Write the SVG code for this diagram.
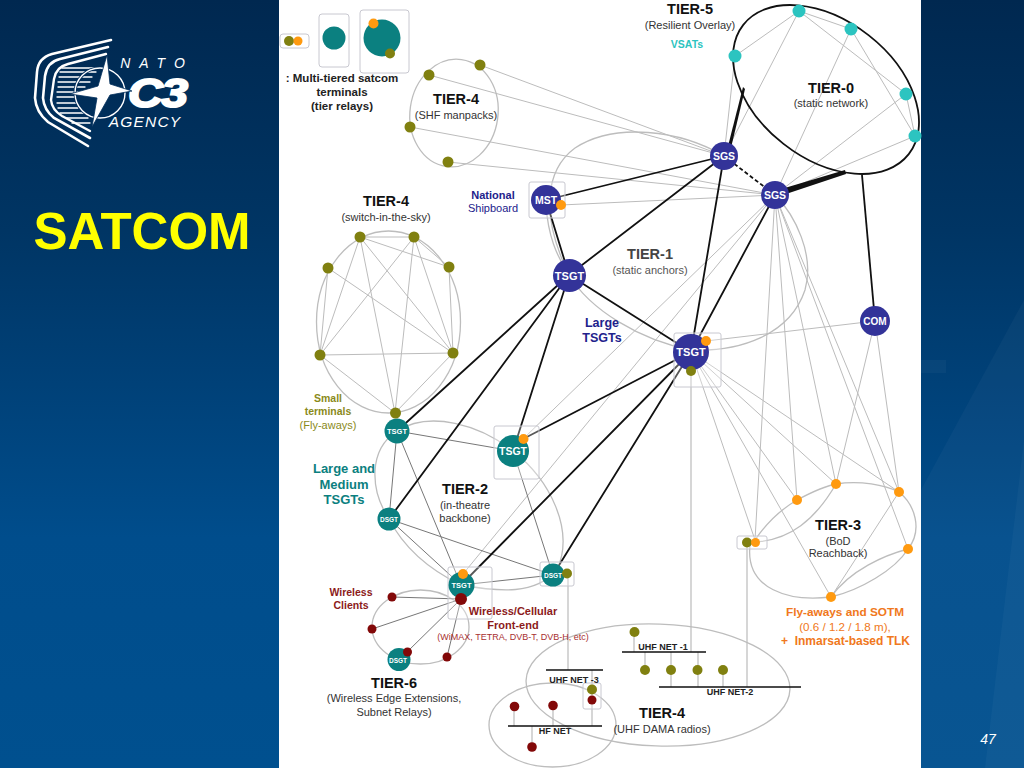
<svg xmlns="http://www.w3.org/2000/svg" width="1024" height="768" viewBox="0 0 1024 768">
<defs>
<linearGradient id="bg" x1="0" y1="0" x2="0" y2="1"><stop offset="0" stop-color="#002850"/><stop offset="0.3" stop-color="#003564"/><stop offset="0.7" stop-color="#004d8c"/><stop offset="1" stop-color="#00508f"/></linearGradient>
</defs>
<style>
text{font-family:"Liberation Sans",Arial,sans-serif;text-anchor:middle}
.t{font-size:14.5px;font-weight:bold;fill:#111}
.s{font-size:11px;fill:#333}
.nw{font-weight:bold;fill:#fff}
.g{stroke:#bcbcbc;stroke-width:1;fill:none}
.c{stroke:#bdbdbd;stroke-width:1.3;fill:none}
.k{stroke:#111;stroke-width:1.8;fill:none}
.d{stroke:#777;stroke-width:1;fill:none}
.box{fill:#fff;fill-opacity:.3;stroke:#c8c8d0;stroke-width:1}
.ol{fill:#808010}.or{fill:#ff9a10}.te{fill:#0b8080}.nv{fill:#333399}.rd{fill:#820808}.cy{fill:#2cc4c0}
.stem{stroke:#bbb;stroke-width:1.2;fill:none}
.bar{stroke:#111;stroke-width:1.5;fill:none}
.lb{font-size:9px;font-weight:bold;fill:#222}
</style>
<rect width="1024" height="768" fill="url(#bg)"/>
<g id="backdrop" fill="#ffffff" fill-opacity="0.03"><polygon points="921,490 1024,300 1024,768 921,768"/><polygon points="985,768 1024,440 1024,768"/><rect x="921" y="360" width="25" height="13"/></g>
<rect id="panel" x="279" y="0" width="642" height="768" fill="#ffffff"/>

<g id="logo">
<text x="157" y="68" style="font-size:14px;letter-spacing:9px;font-style:italic" fill="#fff">NATO</text>
<text x="157" y="107" transform="translate(-31 0) scale(1.2 1)" style="font-size:40px;font-weight:bold;font-style:italic;letter-spacing:-1px" fill="#fff" stroke="#fff" stroke-width="2">C3</text>
<text x="145" y="127" style="font-size:15.500px;letter-spacing:1.2px;font-style:italic" fill="#fff">AGENCY</text>
<g fill="none" stroke="#fff" stroke-linecap="round">
<path d="M111,40 L52,54 Q38,58 37,72 L35,98 Q36,112 48,122 L88,146" stroke-width="2.6"/>
<path d="M108,47 L60,59 Q47,62 45,76 L43,98 Q44,110 54,118 L90,138" stroke-width="2.6"/>
<path d="M106,54 L68,64 Q56,67 54,79 L51,100 Q52,110 62,116 L90,131" stroke-width="2.4"/>
<path d="M62,68 H100M60,72 H96M59,77 H92M58,82 H90M58,87 H85M57,92 H80M57,97 H76M57,103 H76M58,108 H78M60,113 H84M66,118 H88M72,123 H90" stroke-width="1.3"/>
<circle cx="100" cy="93" r="25" stroke="#002d5a" stroke-width="3"/>
<circle cx="100" cy="93" r="25" stroke-width="1.4"/>
</g>
<polygon points="107,55 110,84 132,91 110,95 92,127 97,98 70,94 98,86" fill="#fff" stroke="#002d5a" stroke-width="0.8"/>
</g>
<text id="title" x="142" y="249" style="font-size:51px;font-weight:bold" fill="#ffff00">SATCOM</text>
<text id="pageno" x="988" y="744" style="font-size:14px;font-style:italic" fill="#fff">47</text>

<g id="connectors">
<g class="c">
<ellipse cx="454" cy="113" rx="44" ry="54" transform="rotate(8 454 113)"/>
<ellipse cx="388.500" cy="322" rx="72" ry="91"/>
<path d="M724,156 C680,130 615,122 575,148 C545,170 540,215 569,275 C590,310 640,340 691,350 C740,352 790,335 805,290 C815,255 795,215 775,195"/>
<path d="M546,205 C548,235 556,255 569,275"/>
<path d="M397,431 C430,410 480,425 513,451 C550,480 575,530 557,570 C535,595 500,592 461,585 C430,570 405,550 389,519 C370,490 368,450 397,431"/>
<ellipse cx="420.500" cy="627" rx="48.500" ry="37"/>
<path d="M755,540 C770,518 785,507 797,500 C812,492 825,486 836,484 C860,480 885,485 899,492 C915,505 923,530 908,549 C895,570 860,590 831,597 C790,602 745,590 750,545"/>
<path d="M755,542 C790,540 815,520 836,484"/>
<path d="M831,597 C850,570 885,555 908,549"/>
<ellipse cx="658" cy="685" rx="132" ry="61" transform="rotate(2 658 685)"/>
<ellipse cx="552.500" cy="725" rx="63.500" ry="42"/>
</g>
<g class="g">
<path d="M480,65 L724,156M429,75 L724,156M410,127 L775,195M448,162 L775,195M561,205 L775,195"/>
<path d="M735,56 L724,156M799,11 L724,156M851,29 L775,195M906,94 L775,195M915,136 L775,195"/>
<path d="M735,56 L799,11M799,11 L851,29M799,11 L906,94M851,29 L915,136M906,94 L915,136"/>
<path d="M775,195 L523,439M775,195 L463,574"/>
<path d="M775,195 L755,540M775,195 L797,500M775,195 L836,484M775,195 L899,492M775,195 L908,549"/>
<path d="M691,352 L755,540M691,352 L831,597M691,352 L797,500M691,352 L836,484M691,352 L899,492"/>
<path d="M875,321 L836,484M875,321 L899,492M706,341 L875,321"/>
<path d="M831,597 L899,492"/>
<path d="M360,237 L414,237M360,237 L449,267M360,237 L320,355M360,237 L453,353M360,237 L395,413M414,237 L449,267M414,237 L320,355M414,237 L453,353M414,237 L395,413M328,268 L320,355M328,268 L453,353M449,267 L453,353M320,355 L453,353M320,355 L395,413M453,353 L395,413"/>
</g>
<g class="d">
<path d="M397,431 L513,451M397,431 L389,519M397,431 L461,585M389,519 L461,585M389,519 L553,575M513,451 L553,575M461,585 L553,575"/>
<path d="M461,599 L392,597M461,599 L372,629M461,599 L407,652M461,599 L447,657"/>
</g>
<g class="k">
<path d="M569,275 L546,200M569,275 L724,156M569,275 L691,352M546,200 L724,156M724,156 L691,352M775,195 L691,352"/>
<path d="M569,275 L397,431M569,275 L389,519M569,275 L513,451"/>
<path d="M691,352 L523,439M691,352 L461,585M691,352 L553,575"/>
<path d="M862,175 L875,321"/>
<path d="M724,156 L775,195" stroke-dasharray="4 2.500"/>
</g>
<polygon points="727,150 743,87 745,89 730,152" fill="#111"/>
<polygon points="778,190 845,170 846,174 780,196" fill="#111"/>
<g class="stem">
<path d="M691,371 V652M747,542 V687M568,573 V670"/>
<path d="M634,632 V652M645,652 V670M671,652 V670M698,652 V670M723,670 V687M671,670 V687M698,670 V687"/>
<path d="M592,670 V726M514,706 V726M553,705 V726M532,726 V747"/>
</g>
<g class="bar">
<path d="M622,652 H706M659,687 H801M546,670 H603M508,726 H602"/>
</g>
<ellipse id="tier0-outline" cx="826" cy="89.500" rx="105" ry="69" transform="rotate(38 826 89.500)" fill="none" stroke="#111" stroke-width="1.800"/>
</g>

<g id="legend-a"><rect class="box" x="280" y="34" width="29" height="14" rx="3"/><circle class="ol" cx="289" cy="41" r="5"/><circle class="or" cx="298" cy="41" r="4.500"/></g>
<g id="legend-b"><rect class="box" x="319" y="14" width="30" height="53" rx="3"/><circle class="te" cx="334" cy="38" r="11.500"/></g>
<g id="legend-c"><rect class="box" x="360" y="10" width="49" height="63" rx="3"/><circle class="te" cx="382" cy="38" r="18.500"/><circle class="or" cx="373.500" cy="23.500" r="5"/><circle class="ol" cx="390" cy="53.500" r="5"/></g>

<g id="shf-nodes"><circle class="ol" cx="480" cy="65" r="5.500"/><circle class="ol" cx="429" cy="75" r="5.500"/><circle class="ol" cx="410" cy="127" r="5.500"/><circle class="ol" cx="448" cy="162" r="5.500"/></g>
<g id="sky-nodes"><circle class="ol" cx="360" cy="237" r="5.500"/><circle class="ol" cx="414" cy="237" r="5.500"/><circle class="ol" cx="328" cy="268" r="5.500"/><circle class="ol" cx="449" cy="267" r="5.500"/><circle class="ol" cx="320" cy="355" r="5.500"/><circle class="ol" cx="453" cy="353" r="5.500"/></g>
<g id="vsats"><circle class="cy" cx="735" cy="56" r="6.500"/><circle class="cy" cx="799" cy="11" r="6.500"/><circle class="cy" cx="851" cy="29" r="6.500"/><circle class="cy" cx="906" cy="94" r="6.500"/><circle class="cy" cx="915" cy="136" r="6.500"/></g>

<g id="sgs1"><circle class="nv" cx="724" cy="156" r="14"/><text class="nw" x="724" y="160" style="font-size:10.500px">SGS</text></g>
<g id="sgs2"><circle class="nv" cx="775" cy="195" r="14"/><text class="nw" x="775" y="199" style="font-size:10.500px">SGS</text></g>
<g id="mst"><rect class="box" x="529" y="182" width="36" height="36" rx="2"/><circle class="nv" cx="546" cy="200" r="15"/><circle class="or" cx="561" cy="205" r="5"/><text class="nw" x="546" y="204" style="font-size:10.500px">MST</text></g>
<g id="tsgt1"><circle class="nv" cx="569.500" cy="275.500" r="16.500"/><text class="nw" x="569.500" y="280" style="font-size:11px">TSGT</text></g>
<g id="tsgt2"><rect class="box" x="674" y="333" width="47" height="54" rx="2"/><circle class="nv" cx="691" cy="352" r="18"/><circle class="or" cx="706" cy="341" r="5"/><circle class="ol" cx="691" cy="371" r="5"/><text class="nw" x="691" y="356" style="font-size:11px">TSGT</text></g>
<g id="com"><circle class="nv" cx="875" cy="321" r="15"/><text class="nw" x="875" y="325" style="font-size:10px">COM</text></g>

<g id="tsgt-a"><circle class="te" cx="397" cy="431" r="12.500"/><circle class="ol" cx="395.500" cy="413" r="5.500"/><text class="nw" x="397" y="434" style="font-size:7.500px">TSGT</text></g>
<g id="tsgt-b"><rect class="box" x="494" y="426" width="45" height="53" rx="2"/><circle class="te" cx="513" cy="451" r="16"/><circle class="or" cx="523.500" cy="439" r="5"/><text class="nw" x="513" y="455" style="font-size:10.500px">TSGT</text></g>
<g id="dsgt-a"><circle class="te" cx="389" cy="519" r="11.500"/><text class="nw" x="389" y="522" style="font-size:6.500px">DSGT</text></g>
<g id="tsgt-c"><rect class="box" x="448" y="567" width="44" height="52" rx="2"/><circle class="te" cx="461.500" cy="585" r="13"/><circle class="or" cx="463" cy="574" r="5"/><text class="nw" x="461.500" y="588" style="font-size:7.500px">TSGT</text><circle class="rd" cx="461" cy="599" r="6"/></g>
<g id="dsgt-b"><rect class="box" x="540" y="562" width="34" height="24" rx="2"/><circle class="te" cx="553" cy="575" r="11.500"/><circle class="ol" cx="567" cy="573.500" r="5"/><text class="nw" x="553" y="578" style="font-size:6.500px">DSGT</text></g>

<g id="tier6-nodes"><circle class="rd" cx="392" cy="597" r="4.500"/><circle class="rd" cx="372" cy="629" r="4.500"/><circle class="rd" cx="447" cy="657" r="4.500"/><circle class="te" cx="399" cy="659.500" r="11.500"/><text class="nw" x="398" y="663" style="font-size:6.500px">DSGT</text><circle class="rd" cx="407.500" cy="652" r="4.500"/></g>

<g id="tier3-nodes"><circle class="or" cx="797" cy="500" r="5"/><circle class="or" cx="836" cy="484" r="5"/><circle class="or" cx="899" cy="492" r="5"/><circle class="or" cx="908" cy="549" r="5"/><circle class="or" cx="831" cy="597" r="5"/></g>
<g id="relay"><rect class="box" x="737" y="536" width="30" height="13" rx="2"/><circle class="ol" cx="747" cy="542.500" r="5"/><circle class="or" cx="755.500" cy="542.500" r="4.500"/></g>

<g id="uhf-nodes"><circle class="ol" cx="634.500" cy="632" r="5"/><circle class="ol" cx="645" cy="670" r="5"/><circle class="ol" cx="671" cy="670" r="5"/><circle class="ol" cx="697.500" cy="670" r="5"/><circle class="ol" cx="723" cy="670" r="5"/></g>
<g id="hf-nodes"><circle class="rd" cx="514.500" cy="706.500" r="4.800"/><circle class="rd" cx="553" cy="705.500" r="4.800"/><circle class="rd" cx="532" cy="747" r="4.800"/></g>
<g id="hf-relay"><rect class="box" x="583" y="683" width="18" height="26" rx="2"/><circle class="ol" cx="592" cy="689.500" r="5"/><circle class="rd" cx="592" cy="700" r="4.500"/></g>

<g id="labels">
<text x="342" y="82" style="font-size:11.500px;font-weight:bold" fill="#222">: Multi-tiered satcom</text>
<text x="342" y="96" style="font-size:11.500px;font-weight:bold" fill="#222">terminals</text>
<text x="342" y="110" style="font-size:11.500px;font-weight:bold" fill="#222">(tier relays)</text>
<text class="t" x="456" y="104">TIER-4</text><text class="s" x="456" y="119">(SHF manpacks)</text>
<text class="t" x="386" y="206">TIER-4</text><text class="s" x="386" y="221">(switch-in-the-sky)</text>
<text class="t" x="690" y="14">TIER-5</text><text class="s" x="690" y="29">(Resilient Overlay)</text>
<text x="687" y="48" style="font-size:10.500px;font-weight:bold" fill="#2cc4c0">VSATs</text>
<text class="t" x="831" y="93">TIER-0</text><text class="s" x="831" y="107">(static network)</text>
<text x="493" y="199" style="font-size:11px;font-weight:bold" fill="#22228c">National</text>
<text x="493" y="212" style="font-size:11px" fill="#22228c">Shipboard</text>
<text x="650" y="259" style="font-size:14.500px;font-weight:bold" fill="#444">TIER-1</text><text x="650" y="274" style="font-size:11px" fill="#555">(static anchors)</text>
<text x="602" y="327" style="font-size:12.500px;font-weight:bold" fill="#22228c">Large</text>
<text x="602" y="342" style="font-size:12.500px;font-weight:bold" fill="#22228c">TSGTs</text>
<text x="328" y="402" style="font-size:10.500px;font-weight:bold" fill="#8a8a1a">Small</text>
<text x="328" y="415" style="font-size:10.500px;font-weight:bold" fill="#8a8a1a">terminals</text>
<text x="328" y="429" style="font-size:11px" fill="#8a8a1a">(Fly-aways)</text>
<text x="344" y="473" style="font-size:13px;font-weight:bold" fill="#0b8080">Large and</text>
<text x="344" y="489" style="font-size:13px;font-weight:bold" fill="#0b8080">Medium</text>
<text x="344" y="504" style="font-size:13px;font-weight:bold" fill="#0b8080">TSGTs</text>
<text class="t" x="465" y="494">TIER-2</text><text class="s" x="465" y="509">(in-theatre</text><text class="s" x="465" y="522">backbone)</text>
<text x="351" y="596" style="font-size:10.500px;font-weight:bold" fill="#8c1a1a">Wireless</text>
<text x="351" y="609" style="font-size:10.500px;font-weight:bold" fill="#8c1a1a">Clients</text>
<text x="513" y="615" style="font-size:11px;font-weight:bold" fill="#8c1a1a">Wireless/Cellular</text>
<text x="513" y="629" style="font-size:11px;font-weight:bold" fill="#8c1a1a">Front-end</text>
<text x="513" y="640" style="font-size:9px" fill="#a83030">(WiMAX, TETRA, DVB-T, DVB-H, etc)</text>
<text class="t" x="394" y="688">TIER-6</text><text class="s" x="394" y="702">(Wireless Edge Extensions,</text><text class="s" x="394" y="716">Subnet Relays)</text>
<text class="t" x="838" y="530">TIER-3</text><text class="s" x="838" y="545">(BoD</text><text class="s" x="838" y="557">Reachback)</text>
<text x="845" y="616" style="font-size:11.800px;font-weight:bold" fill="#f07820">Fly-aways and SOTM</text>
<text x="845" y="631" style="font-size:11.600px" fill="#f07820">(0.6 / 1.2 / 1.8 m),</text>
<text x="845.500" y="645" style="font-size:12px;font-weight:bold;white-space:pre" fill="#f07820">+  Inmarsat-based TLK</text>
<text class="t" x="662" y="718">TIER-4</text><text class="s" x="662" y="733">(UHF DAMA radios)</text>
<text class="lb" x="663" y="650">UHF NET -1</text>
<text class="lb" x="730" y="695">UHF NET-2</text>
<text class="lb" x="574" y="683">UHF NET -3</text>
<text class="lb" x="555" y="734">HF NET</text>
</g>
</svg>
